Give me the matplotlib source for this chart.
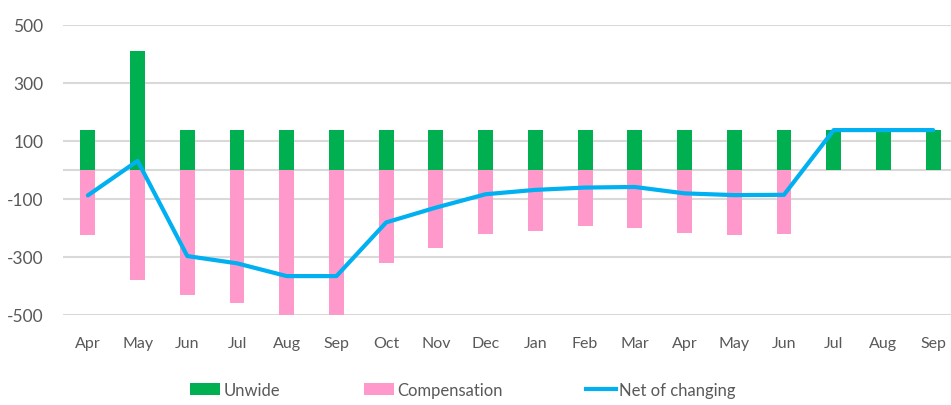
import numpy as np
import matplotlib.pyplot as plt
from matplotlib.patches import Patch
from matplotlib.lines import Line2D

# monthly values
months = ["Apr", "May", "Jun", "Jul", "Aug", "Sep", "Oct", "Nov", "Dec",
          "Jan", "Feb", "Mar", "Apr", "May", "Jun", "Jul", "Aug", "Sep"]
unwide = [138, 410, 138, 138, 138, 138, 138, 138, 138,
          138, 138, 138, 138, 138, 138, 138, 138, 138]
compensation = [-223, -380, -432, -457, -500, -500, -322, -269, -221,
                -209, -195, -200, -217, -223, -221, 0, 0, 0]
net_change = [-88, 31, -297, -322, -366, -366, -181, -130, -84,
              -69, -61, -59, -81, -87, -86, 137, 137, 137]

green = "#00B050"
pink = "#FF99CC"
blue = "#00B0F0"
grey_txt = "#595959"
grid_c = "#D9D9D9"

plt.rcParams['font.family'] = ['Lato', 'DejaVu Sans']
plt.rcParams['axes.unicode_minus'] = False

fig = plt.figure(figsize=(9.51, 4.06), dpi=100)
ax = fig.add_axes([63 / 951, 90 / 406, 895 / 951, 290.3 / 406])

x = np.arange(len(months))
ax.bar(x, unwide, width=0.3, color=green, zorder=2)
ax.bar(x, compensation, width=0.3, color=pink, zorder=2)
ax.plot(x, net_change, color=blue, lw=3, solid_joinstyle='round',
        solid_capstyle='round', zorder=3)

ax.set_xlim(-0.5, len(months) - 0.5)
ax.set_ylim(-500, 500)
ax.set_yticks([500, 300, 100, -100, -300, -500])
ax.set_xticks(x)
ax.set_xticklabels(months)

for yv in [500, 300, 100, 0, -100, -300, -500]:
    ax.axhline(yv, color=grid_c, lw=1.5, zorder=1)

for s in ax.spines.values():
    s.set_visible(False)
ax.tick_params(axis='both', length=0, colors=grey_txt)
ax.tick_params(axis='x', pad=15, labelsize=11.5)
ax.tick_params(axis='y', pad=14, labelsize=12.5)

handles = [Patch(facecolor=green), Patch(facecolor=pink),
           Line2D([0], [0], color=blue, lw=3)]
leg = fig.legend(handles, ["Unwide", "Compensation", "Net of changing"],
                 loc='center', bbox_to_anchor=(0.487, 1 - 391 / 406), ncol=3,
                 frameon=False, fontsize=12, handlelength=1.8, handleheight=0.7,
                 handletextpad=0.2, columnspacing=5.0)
for t in leg.get_texts():
    t.set_color(grey_txt)

fig.savefig("out.png", dpi=100)
